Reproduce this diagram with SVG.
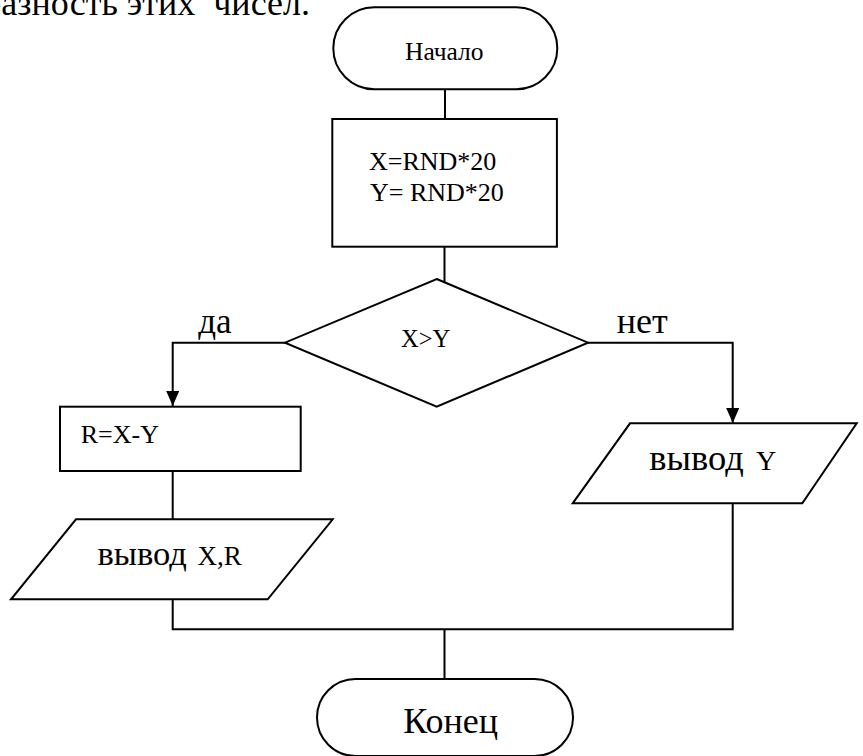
<svg xmlns="http://www.w3.org/2000/svg" width="863" height="756" viewBox="0 0 863 756">
<defs>
<style>
.s{fill:#fff;stroke:#000;stroke-width:2}
.c{fill:none;stroke:#000;stroke-width:2}
text{fill:#000}
</style>
<marker id="ah" markerWidth="15" markerHeight="13" refX="15" refY="6.5" orient="auto" markerUnits="userSpaceOnUse">
<path d="M0,0 L15,6.5 L0,13 Z" fill="#000"/>
</marker>
</defs>
<rect width="863" height="756" fill="#fff"/>
<g font-family="'Liberation Serif', 'DejaVu Serif', serif">
<text x="310" y="15" font-size="36" text-anchor="end" xml:space="preserve">разность этих  чисел.</text>
<g id="connectors">
<line class="c" x1="445" y1="89" x2="445" y2="119"/>
<line class="c" x1="444.5" y1="247" x2="444.5" y2="282"/>
<polyline class="c" points="285,342.7 172.7,342.7 172.7,406" marker-end="url(#ah)"/>
<polyline class="c" points="588,342.7 732.7,342.7 732.7,423" marker-end="url(#ah)"/>
<line class="c" x1="172.7" y1="471" x2="172.7" y2="519.3"/>
<polyline class="c" points="172.7,599.3 172.7,629.3 732.7,629.3 732.7,503.3"/>
<line class="c" x1="444.5" y1="629.3" x2="444.5" y2="679"/>
</g>
<g id="start">
<rect class="s" x="333.3" y="7.3" width="224" height="82" rx="41" ry="41"/>
<text x="405" y="60" font-size="25.5">Начало</text>
</g>
<g id="init">
<rect class="s" x="332.3" y="119" width="224.6" height="127.7"/>
<text x="369" y="170" font-size="26">X=RND*20</text>
<text x="370" y="200.7" font-size="26">Y= RND*20</text>
</g>
<g id="cond">
<polygon class="s" points="436.7,279 588,342.7 436.7,406.7 285,342.7"/>
<text x="401" y="347.3" font-size="24.5">X&gt;Y</text>
</g>
<text x="198.3" y="333.3" font-size="35">да</text>
<text x="616.7" y="333" font-size="36">нет</text>
<g id="calc">
<rect class="s" x="60" y="406.7" width="240.7" height="64.3"/>
<text x="80.7" y="443.3" font-size="26">R=X-Y</text>
</g>
<g id="outXR">
<polygon class="s" points="76,519.3 332.7,519.3 267.7,599.3 11,599.3"/>
<text x="97.5" y="565" font-size="34.5">вывод <tspan font-size="27" dx="2">X,R</tspan></text>
</g>
<g id="outY">
<polygon class="s" points="630,423.3 856.7,423.3 802.3,503.3 572.7,503.3"/>
<text x="649.3" y="470" font-size="36.5">вывод <tspan font-size="28" dx="3">Y</tspan></text>
</g>
<g id="end">
<rect class="s" x="317" y="679" width="256" height="77" rx="38.5" ry="38.5"/>
<text x="403.3" y="733.3" font-size="36">Конец</text>
</g>
</g>
</svg>
